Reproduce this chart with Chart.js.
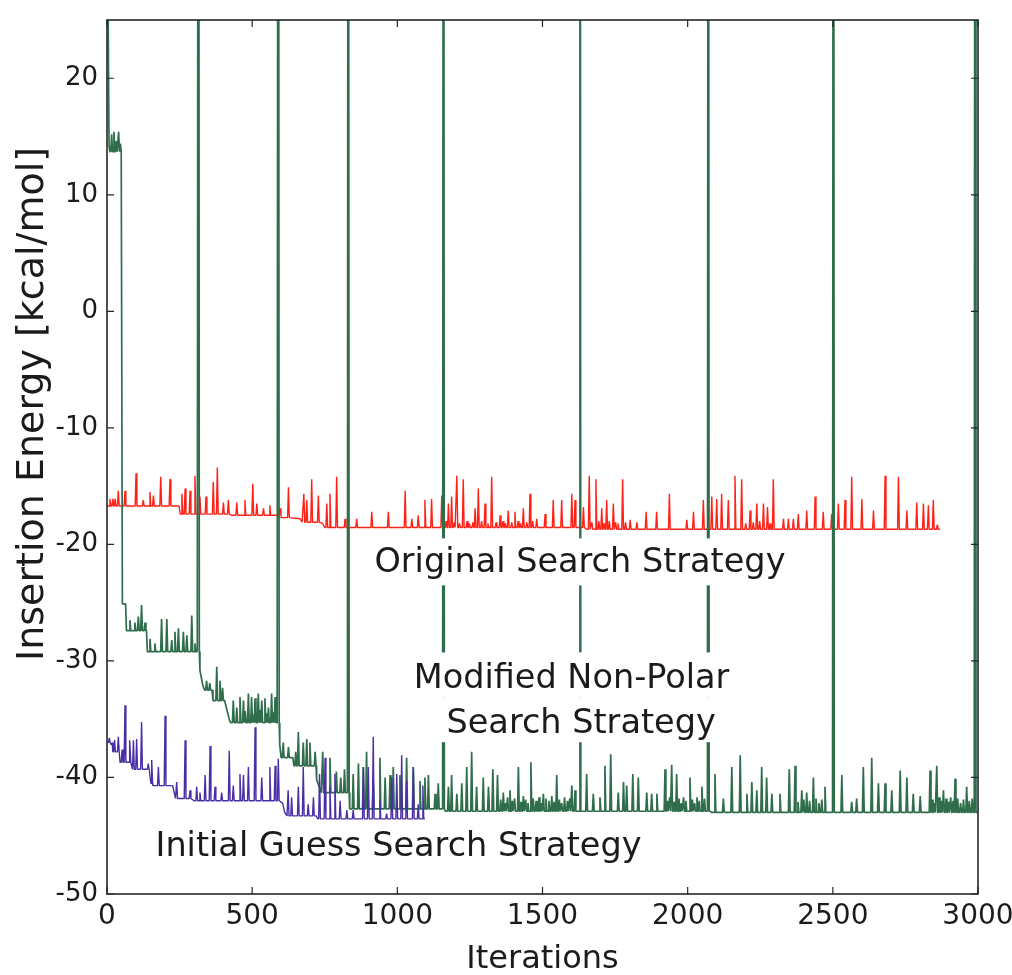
<!DOCTYPE html>
<html>
<head>
<meta charset="utf-8">
<script src="https://cdn.jsdelivr.net/npm/chart.js@4.4.1/dist/chart.umd.min.js"></script>
<style>
  html, body { margin: 0; padding: 0; background: #ffffff; }
  canvas { display: block; }
</style>
</head>
<body>
<canvas id="chart" width="1012" height="975"></canvas>
<script>
// Axis ticks
const xTicks = [0, 500, 1000, 1500, 2000, 2500, 3000];
const yTicks = [-50, -40, -30, -20, -10, 0, 10, 20];

// Original search strategy: baseline levels [iteration, energy] and spikes [iteration, peak energy]
const redPath = [[0, -16.7], [248, -16.7], [252, -17.4], [430, -17.5], [600, -17.7], [665, -17.8], [672, -18.1],
  [742, -18.2], [750, -18.55], [1645, -18.55], [1652, -18.7], [2869, -18.7]];
const redSpikes = [[10, -16.1], [20, -16.1], [28, -16.1], [39, -15.4], [62, -15.4], [100, -13.9], [125, -16.2],
  [148, -15.5], [160, -15.8], [185, -14.2], [217, -14.4], [258, -15.65], [269, -15.2], [286, -15.4], [303, -14.1],
  [320, -15.9], [341, -15.9], [366, -14.65], [380, -13.4], [401, -16.4], [418, -16.2], [447, -16.4], [475, -16.2],
  [502, -14.8], [516, -16.5], [539, -16.9], [561, -16.65], [596, -16.9], [625, -15.1], [678, -15.65], [688, -16.2],
  [705, -14.4], [728, -15.8], [757, -16.5], [768, -15.65], [791, -14.2], [820, -17.8], [860, -17.8], [912, -17.2],
  [969, -17.2], [1027, -15.4], [1050, -17.8], [1072, -17.5], [1095, -16.2], [1118, -16.1], [1153, -15.8],
  [1160, -18.1], [1168, -18.0], [1176, -16.5], [1187, -15.9], [1196, -18.1], [1205, -14.1], [1214, -18.2],
  [1227, -14.4], [1240, -18.0], [1248, -18.2], [1260, -18.1], [1268, -16.9], [1279, -15.2], [1290, -18.0],
  [1302, -16.5], [1312, -18.2], [1325, -14.2], [1340, -18.1], [1354, -17.5], [1364, -18.0], [1372, -18.2],
  [1382, -17.1], [1394, -18.1], [1405, -17.2], [1416, -18.0], [1424, -18.2], [1434, -16.9], [1446, -18.1],
  [1457, -15.65], [1466, -18.0], [1480, -17.8], [1509, -17.4], [1537, -16.2], [1566, -16.2], [1601, -15.65],
  [1612, -16.2], [1641, -16.8], [1661, -14.1], [1670, -18.1], [1684, -14.4], [1694, -18.0], [1704, -16.9],
  [1712, -18.2], [1721, -16.2], [1730, -18.0], [1744, -16.5], [1752, -18.1], [1760, -18.2], [1776, -14.4],
  [1786, -18.1], [1802, -17.9], [1825, -18.1], [1857, -17.2], [1893, -17.2], [1937, -15.65], [1997, -17.9],
  [2020, -17.2], [2054, -16.2], [2083, -15.9], [2100, -16.1], [2117, -15.65], [2140, -16.2], [2163, -14.1],
  [2186, -14.4], [2200, -18.2], [2215, -17.1], [2226, -18.1], [2238, -16.5], [2248, -18.0], [2261, -16.5],
  [2275, -16.8], [2284, -18.2], [2295, -14.4], [2330, -17.8], [2347, -17.8], [2364, -17.8], [2381, -17.4],
  [2410, -17.1], [2439, -15.9], [2467, -17.2], [2496, -17.4], [2519, -16.5], [2542, -16.2], [2565, -14.2],
  [2600, -16.1], [2640, -17.1], [2680, -14.1], [2726, -14.2], [2755, -17.1], [2789, -16.4], [2812, -16.5],
  [2829, -16.65], [2846, -16.2], [2860, -18.3]];

// Modified non-polar search strategy
const greenPath = [[0, 40], [7, 14.2], [10, 13.7], [51, 13.7], [53, -25.1], [64, -25.1], [67, -27.4], [136, -27.4],
  [139, -29.2], [311, -29.2], [320, -30.8], [330, -32.1], [336, -32.5], [362, -32.5], [365, -33.4], [405, -33.4],
  [422, -35.1], [426, -35.3], [586, -35.3], [595, -37.2], [600, -38.3], [640, -38.3], [644, -39.0], [712, -39.0],
  [722, -40.2], [738, -41.3], [826, -41.3], [836, -42.7], [1150, -42.7], [1166, -42.9], [2078, -42.9],
  [2082, -43.0], [3000, -43.0]];
const greenSpikes = [[16, 15.2], [24, 15.4], [32, 14.6], [40, 15.4], [46, 14.4],
  [79, -26.5], [96, -26.7], [108, -26.2], [119, -25.2], [131, -26.7],
  [148, -28.1], [165, -28.5], [188, -26.4], [206, -26.4], [223, -28.2], [234, -27.5], [246, -27.2], [263, -27.5],
  [275, -27.8], [292, -26.1], [303, -28.5], [315, 100],
  [343, -31.7], [354, -31.9], [378, -30.5], [389, -31.7], [398, -32.3],
  [435, -33.4], [447, -34.0], [458, -33.1], [470, -33.4], [476, -34.3], [487, -32.8], [498, -33.1], [504, -34.6],
  [510, -33.2], [521, -32.8], [527, -34.2], [533, -33.4], [544, -33.2], [550, -34.5], [556, -34.0], [567, -32.8],
  [573, -34.4], [579, -33.1], [590, 100],
  [607, -37.0], [625, -37.4], [650, -37.8], [659, -36.1], [676, -37.0], [688, -36.7], [699, -37.0], [717, -37.8],
  [743, -37.8], [768, -38.3], [790, -39.5], [805, -40.0], [818, -39.3], [831, 100],
  [848, -39.7], [866, -38.8], [883, -39.1], [894, -37.8], [917, -40.2], [940, -38.3], [958, -40.0], [975, -39.8],
  [986, -39.1], [1009, -39.8], [1032, -38.3], [1055, -39.1], [1078, -40.3], [1095, -40.0], [1107, -39.8],
  [1130, -41.4], [1141, -40.5], [1159, 100],
  [1176, -40.8], [1187, -39.8], [1205, -41.4], [1222, -40.5], [1239, -39.1], [1256, -37.8], [1273, -40.8],
  [1296, -40.0], [1314, -40.8], [1329, -39.3], [1345, -39.8], [1356, -41.9], [1365, -41.3], [1372, -42.2],
  [1380, -41.7], [1388, -41.1], [1396, -42.0], [1404, -41.8], [1417, -39.1], [1426, -42.1], [1434, -41.6],
  [1442, -41.9], [1450, -42.2], [1460, -38.7], [1468, -41.8], [1478, -42.0], [1488, -41.7], [1496, -42.2],
  [1503, -41.4], [1512, -41.8], [1522, -42.0], [1532, -41.6], [1540, -42.1], [1549, -39.8], [1558, -41.9],
  [1566, -42.2], [1576, -41.7], [1586, -42.0], [1594, -41.8], [1601, -40.7], [1612, -41.1], [1629, 100],
  [1652, -39.7], [1675, -41.4], [1698, -41.7], [1715, -39.0], [1735, -38.0], [1761, -41.3], [1779, -40.4],
  [1790, -40.7], [1811, -39.7], [1830, -40.0], [1859, -41.3], [1876, -41.4], [1894, -41.4], [1922, -39.3],
  [1930, -42.0], [1938, -41.7], [1945, -38.9], [1953, -42.1], [1962, -39.7], [1970, -41.8], [1978, -42.2],
  [1986, -41.7], [1994, -42.0], [2008, -40.0], [2016, -41.9], [2024, -42.2], [2032, -41.7], [2040, -42.0],
  [2049, -40.8], [2058, -41.8], [2071, 100],
  [2094, -39.7], [2123, -41.8], [2152, -39.1], [2181, -38.1], [2204, -41.4], [2221, -40.4], [2238, -41.1],
  [2255, -39.1], [2272, -40.0], [2290, -41.4], [2318, -41.4], [2350, -39.3], [2370, -39.0], [2380, -42.1],
  [2393, -41.1], [2400, -41.9], [2410, -41.3], [2420, -42.0], [2433, -40.0], [2442, -41.8], [2452, -42.2],
  [2462, -41.9], [2473, -40.8], [2502, 100],
  [2531, -39.8], [2565, -42.1], [2582, -41.8], [2605, -39.1], [2634, -38.3], [2657, -40.5], [2680, -40.5],
  [2703, -41.1], [2732, -39.4], [2755, -40.0], [2777, -41.4], [2801, -41.6], [2835, -39.4], [2842, -41.9],
  [2850, -42.2], [2858, -39.0], [2866, -41.7], [2874, -42.0], [2881, -41.1], [2890, -41.8], [2898, -42.1],
  [2906, -41.7], [2914, -42.0], [2921, -40.1], [2930, -41.8], [2940, -42.2], [2950, -41.9], [2961, -40.8],
  [2970, -42.0], [2980, -41.8], [2990, 100]];

// Initial guess search strategy
const bluePath = [[2, -37.0], [20, -37.8], [45, -38.7], [77, -38.7], [88, -39.3], [146, -39.4], [152, -40.5],
  [158, -40.7], [226, -40.7], [236, -41.8], [300, -42.0], [605, -42.2], [612, -43.0], [620, -43.3], [720, -43.3],
  [726, -43.55], [1095, -43.55]];
const blueSpikes = [[8, -36.6], [15, -37.2], [26, -36.8], [39, -36.5], [52, -37.6], [62, -33.8], [79, -36.8],
  [91, -36.8], [102, -36.7], [119, -35.25], [142, -38.8], [154, -38.5], [177, -39.1], [200, -34.7], [240, -40.4],
  [269, -36.8], [286, -41.1], [309, -40.8], [320, -41.3], [338, -39.8], [355, -37.3], [372, -40.8], [395, -41.3],
  [421, -37.7], [435, -40.7], [458, -39.7], [470, -39.8], [487, -39.1], [510, -35.7], [533, -40.0], [561, -39.1],
  [579, -39.0], [590, -38.4], [624, -41.1], [636, -41.7], [659, -40.8], [676, -39.1], [693, -42.3], [711, -41.7],
  [732, -39.7], [751, -38.3], [768, -40.8], [785, -39.7], [803, -42.0], [826, -42.8], [848, -42.8], [883, -39.1],
  [900, -39.1], [917, -36.5], [940, -42.0], [963, -43.1], [981, -40.0], [998, -39.7], [1015, -38.1], [1032, -40.3],
  [1055, -39.1], [1072, -42.3], [1088, -40.7]];

const FONT = "'DejaVu Sans', sans-serif";
const INK = '#1b1b1b';

// Level of a stepped baseline at a given iteration
function levelAt(path, x) {
  let y = path[0][1];
  for (const [px, py] of path) {
    if (px <= x) y = py; else break;
  }
  return y;
}

// Baseline vertices plus one narrow peak per spike
function buildSeries(path, spikes, halfWidth) {
  const pts = path.map(([x, y]) => ({ x, y }));
  spikes.forEach(([x, peak]) => {
    const base = levelAt(path, x);
    pts.push({ x: x - halfWidth, y: base }, { x, y: peak }, { x: x + halfWidth, y: base });
  });
  return pts.sort((a, b) => a.x - b.x);
}

// In-plot labels, anchored in data coordinates
const curveLabels = [
  { text: 'Original Search Strategy', x: 1629, y: -22.4, box: [34, 13] },
  { text: 'Modified Non-Polar', x: 1600, y: -32.36, box: [36, 9] },
  { text: 'Search Strategy', x: 1633, y: -36.2, box: [36, 9] },
  { text: 'Initial Guess Search Strategy', x: 1004, y: -46.7, box: null }
];

const decorations = {
  id: 'decorations',
  afterDatasetsDraw(chart) {
    const { ctx, scales: { x, y } } = chart;
    ctx.save();
    ctx.font = `33.5px ${FONT}`;
    ctx.textAlign = 'center';
    ctx.textBaseline = 'alphabetic';
    curveLabels.forEach(l => {
      if (!l.box) return;
      const cx = x.getPixelForValue(l.x), by = y.getPixelForValue(l.y);
      const w = ctx.measureText(l.text).width;
      ctx.fillStyle = '#ffffff';
      ctx.fillRect(cx - w / 2 - 8, by - l.box[0], w + 16, l.box[0] + l.box[1]);
    });
    ctx.fillStyle = INK;
    curveLabels.forEach(l => {
      ctx.fillText(l.text, x.getPixelForValue(l.x), y.getPixelForValue(l.y));
    });
    ctx.restore();
  },
  afterDraw(chart) {
    const { ctx, chartArea: { left, right, top, bottom }, scales: { x, y } } = chart;
    ctx.save();
    // axis box
    ctx.strokeStyle = '#262626';
    ctx.lineWidth = 1.6;
    ctx.strokeRect(left, top, right - left, bottom - top);
    // inward tick marks on all four sides
    ctx.lineWidth = 1.2;
    ctx.beginPath();
    xTicks.forEach(v => {
      const px = x.getPixelForValue(v);
      ctx.moveTo(px, bottom); ctx.lineTo(px, bottom - 7);
      ctx.moveTo(px, top); ctx.lineTo(px, top + 7);
    });
    yTicks.forEach(v => {
      const py = y.getPixelForValue(v);
      ctx.moveTo(left, py); ctx.lineTo(left + 7, py);
      ctx.moveTo(right, py); ctx.lineTo(right - 7, py);
    });
    ctx.stroke();
    // axis titles
    ctx.fillStyle = INK;
    ctx.textAlign = 'center';
    ctx.textBaseline = 'alphabetic';
    ctx.font = `32px ${FONT}`;
    ctx.fillText('Iterations', (left + right) / 2, 968);
    ctx.translate(43, 404);
    ctx.rotate(-Math.PI / 2);
    ctx.font = `38px ${FONT}`;
    ctx.fillText('Insertion Energy [kcal/mol]', 0, 0);
    ctx.restore();
  }
};

const lineStyle = { pointRadius: 0, borderJoinStyle: 'bevel', tension: 0, fill: false };

new Chart(document.getElementById('chart'), {
  type: 'line',
  data: {
    datasets: [
      { label: 'Initial Guess Search Strategy', data: buildSeries(bluePath, blueSpikes, 3),
        borderColor: '#4a2ea6', borderWidth: 1.4, ...lineStyle },
      { label: 'Modified Non-Polar Search Strategy', data: buildSeries(greenPath, greenSpikes, 3),
        borderColor: '#2f6d4b', borderWidth: 1.7, ...lineStyle },
      { label: 'Original Search Strategy', data: buildSeries(redPath, redSpikes, 3),
        borderColor: '#ff2016', borderWidth: 1.4, ...lineStyle }
    ]
  },
  options: {
    responsive: false,
    animation: false,
    devicePixelRatio: 1,
    layout: { padding: { top: 20, right: 34, left: 0, bottom: 0 } },
    plugins: { legend: { display: false }, tooltip: { enabled: false } },
    scales: {
      x: {
        type: 'linear', min: 0, max: 3000,
        afterBuildTicks: s => { s.ticks = xTicks.map(v => ({ value: v })); },
        afterFit: s => { s.height = 81; s.paddingLeft = 0; s.paddingRight = 0; },
        grid: { display: false, drawTicks: false },
        border: { display: false },
        ticks: { autoSkip: false, maxRotation: 0, padding: 6, color: INK, font: { family: FONT, size: 28 },
          callback: v => String(v) }
      },
      y: {
        type: 'linear', min: -50, max: 25,
        afterBuildTicks: s => { s.ticks = yTicks.map(v => ({ value: v })); },
        afterFit: s => { s.width = 107; s.paddingTop = 0; s.paddingBottom = 0; },
        grid: { display: false, drawTicks: false },
        border: { display: false },
        ticks: { autoSkip: false, padding: 9, color: INK, font: { family: FONT, size: 26 },
          callback: v => String(v) }
      }
    }
  },
  plugins: [decorations]
});
</script>
</body>
</html>
